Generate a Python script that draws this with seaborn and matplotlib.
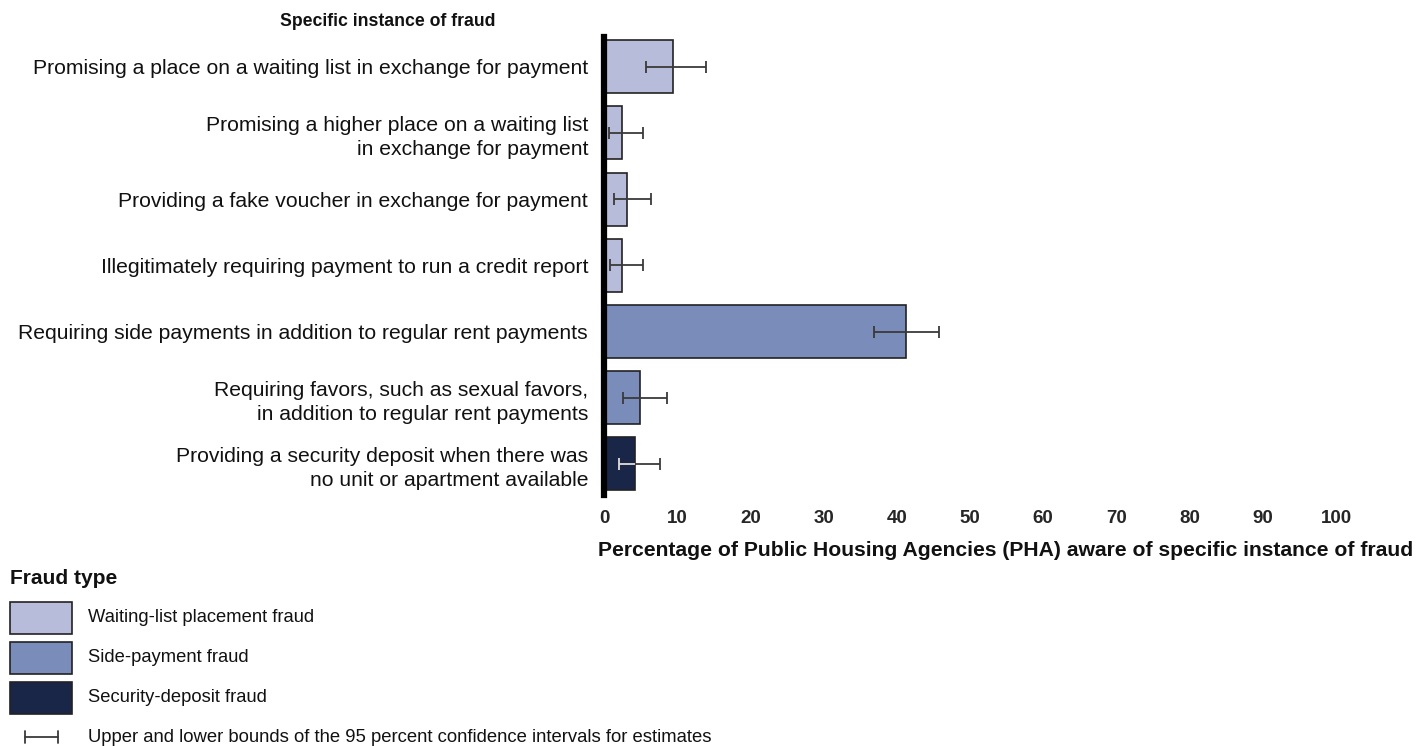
import matplotlib
matplotlib.use("Agg")
import matplotlib.pyplot as plt
import seaborn as sns
import pandas as pd
from matplotlib.patches import Rectangle
from matplotlib.lines import Line2D

# ---- data ----
categories = [
    "Promising a place on a waiting list in exchange for payment",
    "Promising a higher place on a waiting list\nin exchange for payment",
    "Providing a fake voucher in exchange for payment",
    "Illegitimately requiring payment to run a credit report",
    "Requiring side payments in addition to regular rent payments",
    "Requiring favors, such as sexual favors,\nin addition to regular rent payments",
    "Providing a security deposit when there was\nno unit or apartment available",
]
fraud_types = [
    "Waiting-list placement fraud",
    "Waiting-list placement fraud",
    "Waiting-list placement fraud",
    "Waiting-list placement fraud",
    "Side-payment fraud",
    "Side-payment fraud",
    "Security-deposit fraud",
]
estimates = [9.4, 2.4, 3.1, 2.4, 41.3, 4.9, 4.2]
ci_lower = [5.8, 0.7, 1.3, 0.8, 36.9, 2.6, 2.0]
ci_upper = [13.9, 5.3, 6.4, 5.3, 45.8, 8.6, 7.6]
type_order = ["Waiting-list placement fraud", "Side-payment fraud", "Security-deposit fraud"]
type_colors = ["#B8BCDB", "#7A8CBA", "#1A2648"]
x_ticks = [0, 10, 20, 30, 40, 50, 60, 70, 80, 90, 100]
x_label = "Percentage of Public Housing Agencies (PHA) aware of specific instance of fraud"
y_title = "Specific instance of fraud"
legend_title = "Fraud type"
ci_label = "Upper and lower bounds of the 95 percent confidence intervals for estimates"

df = pd.DataFrame({"category": categories, "type": fraud_types, "value": estimates})

sns.set_theme(style="white")
plt.rcParams["font.family"] = ["Liberation Sans", "DejaVu Sans"]

W, H = 1416, 746
fig = plt.figure(figsize=(W / 100, H / 100), dpi=100)
ax = fig.add_axes([604 / W, 1 - 495 / H, 732 / W, 458 / H])

sns.barplot(data=df, y="category", x="value", hue="type", hue_order=type_order,
            palette=type_colors, dodge=False, orient="h", width=0.8, saturation=1,
            edgecolor="#222222", linewidth=1.2, legend=False, ax=ax, errorbar=None)

bar_patches = {}
for p in ax.patches:
    if p.get_width() > 0:
        yc = p.get_y() + p.get_height() / 2
        bar_patches[round(yc)] = p

for i, (est, lo, hi) in enumerate(zip(estimates, ci_lower, ci_upper)):
    ax.errorbar(est, i, xerr=[[est - lo], [hi - est]], fmt="none",
                ecolor="#3a3a3a", elinewidth=1.3, capsize=4.6, capthick=1.3, zorder=5)
    if fraud_types[i] == "Security-deposit fraud":
        eb = ax.errorbar(est, i, xerr=[[est - lo], [hi - est]], fmt="none",
                         ecolor="#dddddd", elinewidth=1.3, capsize=4.6, capthick=1.3, zorder=6)
        patch = bar_patches.get(i)
        if patch is not None:
            for artist in list(eb.lines[1]) + list(eb.lines[2]):
                artist.set_clip_path(patch)

ax.set_xlim(0, 100)
ax.set_ylim(6.47, -0.45)
ax.set_xticks(x_ticks)
ax.set_xticklabels([str(t) for t in x_ticks], fontweight="bold", fontsize=13.5)
ax.tick_params(axis="x", length=0, pad=11)
ax.tick_params(axis="y", length=0, pad=11.5)
for lbl in ax.get_yticklabels():
    lbl.set_fontsize(15.2)
    lbl.set_horizontalalignment("right")
    lbl.set_multialignment("right")
    lbl.set_linespacing(1.35)
    lbl.set_color("#111111")
ax.set_ylabel("")
ax.set_xlabel("")

for s in ["top", "right", "bottom"]:
    ax.spines[s].set_visible(False)
ax.spines["left"].set_linewidth(4.5)
ax.spines["left"].set_color("black")
ax.spines["left"].set_zorder(10)

renderer = fig.canvas.get_renderer()


def fit_text(x, y, s, target_w, ha="left", **kw):
    t = fig.text(x / W, 1 - y / H, s, ha=ha, va="center", color="#111111", **kw)
    w = t.get_window_extent(renderer).width
    t.set_fontsize(t.get_fontsize() * target_w / w)
    return t


fit_text(280, 21, y_title, 215, fontweight="bold", fontsize=13.5)
fit_text(1006, 550, x_label, 814, ha="center", fontweight="bold", fontsize=13.5)

# legend
fit_text(10, 578, legend_title, 107, fontweight="bold", fontsize=13.5)
legend_ys = [618, 658, 698]
for yc, c, t in zip(legend_ys, type_colors, type_order):
    fig.add_artist(Rectangle((10 / W, 1 - (yc + 16) / H), 62 / W, 32 / H,
                             facecolor=c, edgecolor="#222222", linewidth=1.2,
                             transform=fig.transFigure))
    fig.text(88 / W, 1 - yc / H, t, fontsize=13.2, ha="left", va="center", color="#111111")

yl = 1 - 737 / H
fig.add_artist(Line2D([25 / W, 58 / W], [yl, yl], color="#3a3a3a", lw=1.3,
                      transform=fig.transFigure))
for xx in [25, 58]:
    fig.add_artist(Line2D([xx / W, xx / W], [yl - 6 / H, yl + 6 / H],
                          color="#3a3a3a", lw=1.3, transform=fig.transFigure))
fig.text(88 / W, yl, ci_label, fontsize=13.3, ha="left", va="center", color="#111111")

fig.savefig("out.png", dpi=100)
